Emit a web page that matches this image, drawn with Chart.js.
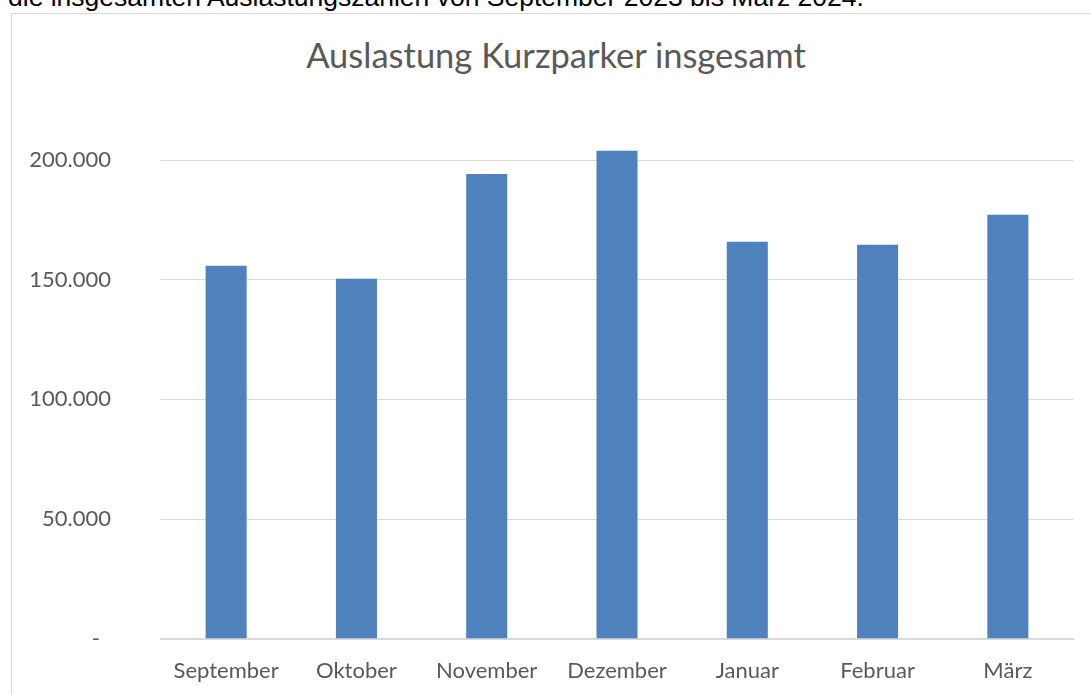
<!DOCTYPE html>
<html>
<head>
<meta charset="utf-8">
<script src="https://cdn.jsdelivr.net/npm/chart.js@4"></script>
<style>
  body { margin: 0; background: #fff; overflow: hidden; }
  #intro {
    position: absolute; left: 8px; top: -16px;
    font-family: "Liberation Sans", Arial, sans-serif; font-size: 26.5px; line-height: 1; color: #000;
    white-space: nowrap;
  }
  #frame {
    position: absolute; left: 11px; top: 13px; width: 1200px; height: 800px;
    border: 1px solid #d9d9d9;
  }
  #title {
    position: absolute; left: 0; width: 1112px; top: 35px; text-align: center;
    font-family: Lato, sans-serif; font-size: 34.5px; line-height: 40px; color: #595959;
  }
  /* canvas runs a bit past the window so the plot bottom lands at y=640 */
  #wrap { position: absolute; left: 0; top: 0; width: 1091px; height: 702px; }
</style>
</head>
<body>
<div id="intro">die insgesamten Auslastungszahlen von September 2023 bis März 2024.</div>
<div id="frame"></div>
<div id="title">Auslastung Kurzparker insgesamt</div>
<div id="wrap"><canvas id="barChart"></canvas></div>
<script>
// Chart data
const months = ["September", "Oktober", "November", "Dezember", "Januar", "Februar", "März"];
const auslastung = [155800, 150400, 194200, 203900, 165800, 164600, 177100];
const yTicks = [0, 50000, 100000, 150000, 200000];

const grey = "#595959";
// Excel accounting style: zero shown as a dash, set in from the right edge
const fmt = (v) => (v === 0 ? "-\u2002" : v.toLocaleString("de-DE"));

document.addEventListener("DOMContentLoaded", () => {
  const ctx = document.getElementById("barChart").getContext("2d");
  new Chart(ctx, {
    type: "bar",
    data: {
      labels: months,
      datasets: [
        {
          label: "Auslastung",
          data: auslastung,
          backgroundColor: "#4f81bd",
          barPercentage: 0.63,
          categoryPercentage: 0.5,
          clip: false,
        },
      ],
    },
    options: {
      responsive: true,
      maintainAspectRatio: false,
      animation: false,
      layout: { padding: { top: 160, right: 18 } },
      plugins: {
        legend: { display: false },
        tooltip: { enabled: false },
      },
      scales: {
        x: {
          grid: { display: false, drawTicks: false },
          border: { color: "#d9d9d9", width: 2 },
          ticks: {
            color: grey,
            font: { family: "Lato", size: 22 },
            padding: 19,
            maxRotation: 0,
          },
          afterFit: (axis) => { axis.height = 48; },
        },
        y: {
          min: 0,
          max: 200000,
          afterBuildTicks: (axis) => { axis.ticks = yTicks.map((v) => ({ value: v })); },
          grid: { color: "#d9d9d9", lineWidth: 1, drawTicks: false },
          border: { display: false },
          ticks: {
            color: grey,
            font: { family: "Lato", size: 22 },
            padding: 50,
            callback: fmt,
          },
          afterFit: (axis) => { axis.width = 161; },
        },
      },
    },
  });
});
</script>
</body>
</html>
